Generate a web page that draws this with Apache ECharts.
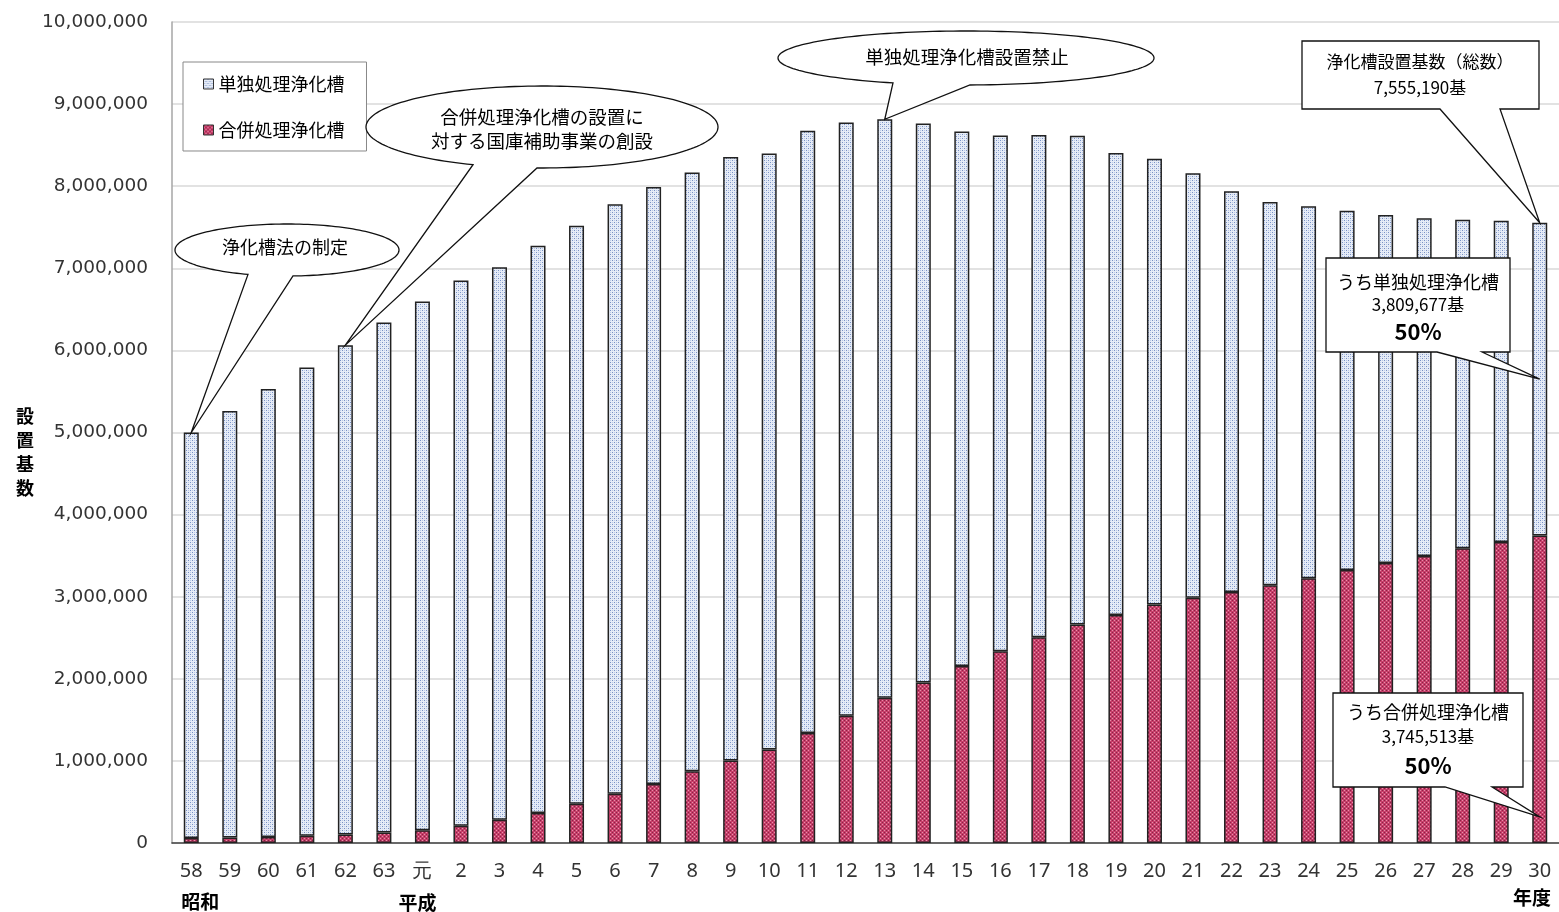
<!DOCTYPE html>
<html><head><meta charset="utf-8">
<script src="https://cdn.jsdelivr.net/npm/echarts@6/dist/echarts.min.js"></script>
<style>html,body{margin:0;padding:0;background:#fff}#c{width:1559px;height:912px}</style>
</head><body><div id="c"></div>
<script>
// ---- data ----
const categories = ['58','59','60','61','62','63','元','2','3','4','5','6','7','8','9','10','11','12','13','14','15','16','17','18','19','20','21','22','23','24','25','26','27','28','29','30'];
const tandoku = [4940000,5195000,5455000,5705000,5960000,6210000,6440000,6640000,6730000,6910000,7040000,7180000,7270000,7295000,7350000,7260000,7335000,7225000,7045000,6810000,6510000,6280000,6120000,5955000,5625000,5430000,5170000,4880000,4670000,4530000,4375000,4240000,4115000,4000000,3915000,3809677];
const gappei = [60000,66000,74000,88000,104000,129000,155000,210000,282000,365000,478000,600000,720000,873000,1006000,1139000,1341000,1551000,1770000,1955000,2155000,2337000,2505000,2660000,2778000,2905000,2988000,3057000,3138000,3226000,3325000,3410000,3495000,3590000,3665000,3745513];
const seriesNames = ['単独処理浄化槽','合併処理浄化槽'];
const yAxisName = '設置基数';
const eraLabels = ['昭和','平成','年度'];
const notes = {
  law: '浄化槽法の制定',
  subsidy: ['合併処理浄化槽の設置に','対する国庫補助事業の創設'],
  ban: '単独処理浄化槽設置禁止',
  total: ['浄化槽設置基数（総数）','7,555,190基'],
  tandokuNote: ['うち単独処理浄化槽','3,809,677基','50%'],
  gappeiNote: ['うち合併処理浄化槽','3,745,513基','50%']
};

function pattern(bg, dots){
  const c=document.createElement('canvas'); c.width=4; c.height=4;
  const ctx=c.getContext('2d'); ctx.fillStyle=bg; ctx.fillRect(0,0,4,4);
  dots.forEach(d=>{ctx.fillStyle=d[2]; ctx.fillRect(d[0],d[1],1,1);});
  return {image:c, repeat:'repeat'};
}
const bluePat = pattern('#e6ecf7',[[0,0,'#7890c4'],[2,2,'#7890c4'],[2,0,'#bccae6'],[0,2,'#bccae6']]);
const redPat = pattern('#c6406a',[[0,0,'#8a2145'],[2,2,'#8a2145'],[2,0,'#e98fac'],[0,2,'#e98fac']]);

const JP='"Noto Sans CJK JP", sans-serif';
const chart = echarts.init(document.getElementById('c'));
chart.setOption({
  animation:false,
  backgroundColor:'#fff',
  grid:{left:172,right:-3,top:22,bottom:69,containLabel:false},
  legend:{
    data:[seriesNames[0],seriesNames[1]], orient:'vertical', left:183, top:62,
    padding:[13,22,12,20], itemGap:28, itemWidth:10, itemHeight:10, icon:'rect',
    borderColor:'#888', borderWidth:1, backgroundColor:'#fff',
    textStyle:{fontFamily:JP,fontSize:18,color:'#000'},
    itemStyle:{borderColor:'#333',borderWidth:1}
  },
  xAxis:{
    type:'category', data:categories,
    axisLine:{lineStyle:{color:'#404040',width:1.5}},
    axisTick:{inside:true,length:5,lineStyle:{color:'#595959'}},
    axisLabel:{fontFamily:'"Noto Sans", sans-serif',fontSize:20,color:'#333',margin:18,interval:0}
  },
  yAxis:{
    type:'value', min:0, max:10000000, interval:1000000,
    axisLine:{show:true,lineStyle:{color:'#a6a6a6',width:1.5}},
    axisTick:{show:false},
    splitLine:{lineStyle:{color:'#d9d9d9',width:1.5}},
    axisLabel:{fontFamily:'"DejaVu Sans", sans-serif',fontSize:18.5,color:'#333',margin:24,
      formatter:v=>v.toLocaleString('en-US')}
  },
  series:[
    {name:seriesNames[1],type:'bar',stack:'t',data:gappei,barWidth:15,
      itemStyle:{color:redPat,borderColor:'#222',borderWidth:1.5}},
    {name:seriesNames[0],type:'bar',stack:'t',data:tandoku,barWidth:15,
      itemStyle:{color:bluePat,borderColor:'#222',borderWidth:1.5}}
  ]
});

function px(i,v){return chart.convertToPixel({xAxisIndex:0,yAxisIndex:0},[i,v]);}
const total = i => tandoku[i]+gappei[i];
const STROKE={fill:'#fff',stroke:'#111',lineWidth:1.3};
function ellipseCallout(cx,cy,rx,ry,xL,xR,tip){
  const thL=Math.acos(Math.max(-1,Math.min(1,(xL-cx)/rx)));
  const thR=Math.acos(Math.max(-1,Math.min(1,(xR-cx)/rx)));
  const pts=[]; const N=160;
  for(let k=0;k<=N;k++){const t=thL+(thR+2*Math.PI-thL)*k/N; pts.push([cx+rx*Math.cos(t),cy+ry*Math.sin(t)]);}
  pts.push(tip);
  return {type:'polygon',shape:{points:pts},style:STROKE,z:100};
}
function rectCallout(l,r,t,b,xL,xR,tip){
  return {type:'polygon',shape:{points:[[xR,b],[r,b],[r,t],[l,t],[l,b],[xL,b],tip]},style:STROKE,z:100};
}
function txt(s,x,y,size,bold,extra){
  return Object.assign({type:'text',x:x,y:y,z:110,style:{text:s,fill:'#000',font:(bold?'bold ':'')+size+'px '+JP,textAlign:'center',textVerticalAlign:'middle'}},extra||{});
}
const last = categories.length-1;
const iLaw = categories.indexOf('58'), iSub = categories.indexOf('62'), iBan = categories.indexOf('13');
const g = [
  ellipseCallout(287,250,112,26,248,293,px(iLaw,total(iLaw))),
  txt(notes.law,285,247,18),
  ellipseCallout(542,127,176,41,473,537,px(iSub,total(iSub))),
  txt(notes.subsidy[0],542,117,18.5), txt(notes.subsidy[1],542,141,18.5),
  ellipseCallout(966,58,188,27,893,970,px(iBan,total(iBan))),
  txt(notes.ban,967,57,18.5),
  rectCallout(1302,1539,41,109,1440,1500,px(last,total(last))),
  txt(notes.total[0],1420,62,17), txt(notes.total[1],1420,88,17),
  rectCallout(1326,1510,258,352,1437,1482,px(last,gappei[last]+tandoku[last]*0.5)),
  txt(notes.tandokuNote[0],1418,282,18), txt(notes.tandokuNote[1],1418,305,17), txt(notes.tandokuNote[2],1418,332,22,true),
  rectCallout(1333,1523,693,787,1445,1492,px(last,gappei[last]*0.085)),
  txt(notes.gappeiNote[0],1428,712,18), txt(notes.gappeiNote[1],1428,737,17), txt(notes.gappeiNote[2],1428,766,22,true),
  {type:'text',x:25,y:452,z:110,style:{text:yAxisName.split('').join('\n'),fill:'#000',font:'bold 18px '+JP,textAlign:'center',textVerticalAlign:'middle',lineHeight:24}},
  txt(eraLabels[0],px(iLaw,0)[0]+9,902,19,true),
  txt(eraLabels[1],px(categories.indexOf('元'),0)[0]-5,903,19,true),
  txt(eraLabels[2],1532,898,19,true)
];
chart.setOption({graphic:g});
</script></body></html>
